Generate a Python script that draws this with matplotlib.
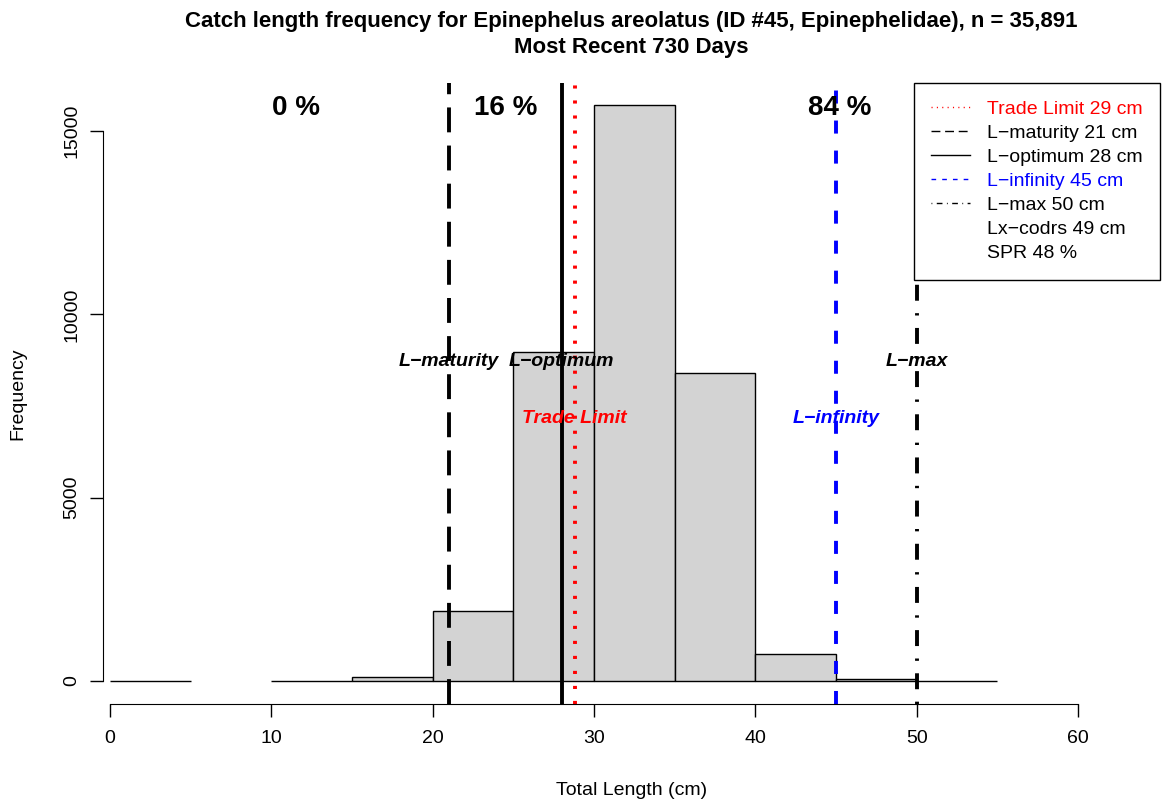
import matplotlib
matplotlib.use("Agg")
import matplotlib.pyplot as plt
from matplotlib.lines import Line2D

plt.rcParams["font.family"] = ["Liberation Sans", "DejaVu Sans"]

# Histogram of catch lengths (5 cm bins)
bin_edges = [0, 5, 10, 15, 20, 25, 30, 35, 40, 45, 50, 55]
counts = [4, 0, 3, 117, 1913, 8960, 15700, 8390, 736, 63, 5]

# Reference lengths (cm)
ref_names = ["Trade Limit", "L\u2212maturity", "L\u2212optimum", "L\u2212infinity", "L\u2212max"]
ref_values = [28.8, 21, 28, 45, 50]
ref_legend_values = [29, 21, 28, 45, 50]
extra_legend = ["Lx\u2212codrs 49 cm", "SPR 48 %"]

# Share of catch in each length zone
pct_values = [0, 16, 84]
pct_pos = [11.5, 24.5, 45.25]

ref_colors = ["red", "black", "black", "blue", "black"]
ref_dashes = [(0.8, 3.06), (6.4, 3.4), None, (3.35, 4.37), (0.6, 3.2, 4.1, 3.2)]
label_heights = [7150, 8700, 8700, 7150, 8700]

W, H = 1163, 805
fig = plt.figure(figsize=(W / 100, H / 100), dpi=100)
ax = fig.add_axes([103 / W, (H - 704) / H, (1160 - 103) / W, (704 - 83) / H])

widths = [bin_edges[i + 1] - bin_edges[i] for i in range(len(counts))]
for left, w, c in zip(bin_edges[:-1], widths, counts):
    if c > 0:
        ax.bar(left, c, width=w, align="edge", color="#D3D3D3",
               edgecolor="black", linewidth=1)

handles = []
for name, val, lv, col, dsh, yh in zip(ref_names, ref_values, ref_legend_values,
                                        ref_colors, ref_dashes, label_heights):
    kw = dict(color=col, linewidth=2.8)
    if dsh is not None:
        kw["dashes"] = dsh
    ln = ax.axvline(val, **kw)
    ln.set_dash_capstyle("butt")
    ax.text(val, yh, name, color=col, fontsize=14, fontweight="bold",
            fontstyle="italic", ha="center", va="center")
    hkw = dict(color=col, linewidth=1)
    if dsh is not None:
        hkw["dashes"] = dsh
    handles.append(Line2D([], [], label=f"{name} {lv} cm", **hkw))

for t in extra_legend:
    handles.append(Line2D([], [], color="none", label=t))

for p, x in zip(pct_values, pct_pos):
    ax.text(x, max(counts), f"{p} %", fontsize=20, fontweight="bold",
            ha="center", va="center_baseline")

ax.set_xlim((103 - 110) / 16.133, (1160 - 110) / 16.133)
ax.set_ylim((681 - 704) / 0.036667, (681 - 83) / 0.036667)

for s in ["top", "right"]:
    ax.spines[s].set_visible(False)
ax.spines["bottom"].set_bounds(0, 60)
ax.spines["left"].set_bounds(0, 15000)
ax.set_xticks(range(0, 61, 10))
ax.set_yticks([0, 5000, 10000, 15000])
ax.tick_params(axis="both", length=9.5, width=1, labelsize=14, pad=9)
ax.tick_params(axis="y", labelrotation=90, pad=7)
for lab in ax.get_yticklabels():
    lab.set_va("center")

ax.set_xlabel("Total Length (cm)", fontsize=14, va="center")
ax.xaxis.set_label_coords(0.5, (704 - 790) / (704 - 83))
ax.set_ylabel("Frequency", fontsize=14, va="center")
ax.yaxis.set_label_coords((18 - 103) / (1160 - 103), 0.5)

leg = ax.legend(handles=handles, loc="upper right", bbox_to_anchor=(1.0, 1.0),
                fontsize=14, frameon=True, fancybox=False, borderaxespad=0,
                borderpad=0.9, labelspacing=0.33, handlelength=2.0,
                handletextpad=0.85, labelcolor=ref_colors + ["black", "black"])
leg.get_frame().set_edgecolor("black")
leg.get_frame().set_linewidth(1)
leg.get_frame().set_alpha(1)

cx = 631.5 / W
fig.text(cx, 1 - 21 / H, "Catch length frequency for Epinephelus areolatus (ID #45, Epinephelidae), n = 35,891",
         fontsize=16, fontweight="bold", ha="center", va="center")
fig.text(cx, 1 - 47 / H, "Most Recent 730 Days", fontsize=16, fontweight="bold",
         ha="center", va="center")

fig.savefig("out.png", dpi=100)
